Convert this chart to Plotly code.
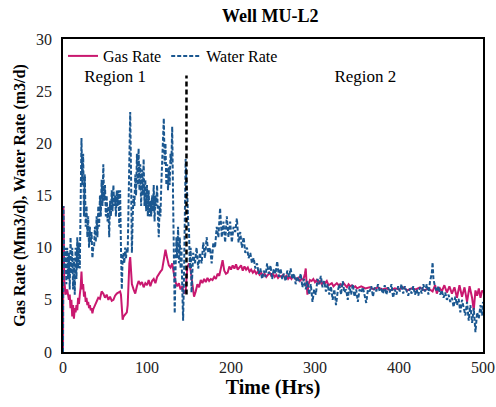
import plotly.graph_objects as go

# ---- data ----
water_t = [0, 0.5, 1.5, 3, 4, 5, 6, 7, 8, 9, 10, 11, 12, 13, 14, 15, 16, 17, 18, 19, 20,
           21, 22, 23, 24, 25, 26, 27, 28, 29, 30, 31, 32, 33, 34, 35, 36, 37, 38, 39, 40,
           41, 42, 43, 44, 45, 46, 47, 48, 49, 50, 51, 52, 53, 54, 55, 56, 57, 58, 59, 60,
           61, 62, 63, 64, 65, 66, 67, 68, 69, 70, 71, 72, 73, 74, 75, 76, 77, 78, 79, 80,
           81, 82, 83, 84, 85, 86, 87, 88, 89, 90, 91, 92, 93, 94, 95, 96, 97, 98, 99, 100,
           101, 102, 103, 104, 105, 106, 107, 108, 109, 110, 111, 112, 113, 114, 115, 116,
           117, 118, 119, 120, 121, 122, 123, 124, 125, 126, 127, 128, 129, 130, 131, 132,
           133, 134, 135, 136, 137, 138, 139, 140, 141, 142, 143, 144, 145, 146, 147, 148,
           149, 150, 151, 152, 153, 154, 155,
           157, 159, 161, 163, 165, 167, 169, 171, 173, 175, 177, 179, 181, 183, 185, 187,
           189, 191, 193, 195, 197, 199, 201, 203, 205, 207, 209, 211, 213, 215, 217, 219,
           221, 223, 225, 227, 229, 231, 233, 235, 237, 239, 241, 243, 245, 247, 249, 251,
           253, 255, 257, 259, 261, 263, 265, 267, 269, 271, 273, 275, 277, 279, 281, 283,
           285, 287, 289, 291, 293, 295, 297, 299, 301, 303, 305, 307, 309, 311, 313, 315,
           317, 319, 321, 323, 325, 327, 329, 331, 333, 335, 337, 339, 341, 343, 345, 347,
           349, 351, 353, 355, 357, 359, 361, 363, 365, 367, 369, 371, 373, 375, 377, 379,
           381, 383, 385, 387, 389, 391, 393, 395, 397, 399, 401, 403, 405, 407, 409, 411,
           413, 415, 417, 419, 421, 423, 425, 427, 429, 431, 433, 435, 437, 439, 440, 441,
           443, 445, 447, 449, 451, 453, 455, 457, 459, 461, 463, 465, 467, 469, 471, 473,
           475, 477, 479, 481, 483, 485, 487, 489, 491, 493, 495, 497, 499, 500]
water_rate = [0, 14, 8, 10, 6.5, 10, 7, 9.5, 6, 11, 7.5, 10, 6, 9, 5.5, 10, 7, 11, 8, 10.5, 8,
              15, 20.5, 16, 19, 13, 17, 12, 14, 11, 13, 10, 12, 10.5, 11.5, 9, 10, 10, 12, 10.5, 13,
              11, 14, 12, 15, 13, 16.5, 14, 18, 14.5, 16, 13, 15, 12.5, 14, 11, 14.5, 13, 15.5, 13.5, 16,
              14, 15, 13, 15.5, 14, 15.5, 12, 15.5, 10, 6, 9, 9.5, 8.5, 10, 9, 10, 9.5, 14, 19, 23,
              17, 9.5, 13, 15, 14, 17, 15, 19, 16, 19.5, 15.5, 18, 14, 17.5, 15, 18.5, 14, 16.5, 13.5, 16,
              13, 15.5, 13, 14.5, 13, 15, 13.5, 16, 12.5, 15, 14, 16, 13, 11, 14, 13,
              16, 19, 21, 22.4, 18, 20, 16, 18, 15.5, 17.7, 16, 19, 18, 21.6, 15, 9,
              3.7, 8, 11, 9, 12, 8.5, 11, 8, 10, 6, 3, 7, 14, 18.5, 16, 15,
              12.5, 11.7, 8, 10, 5.7, 8, 9.5,
              8.5, 10, 8, 9.5, 8.5, 10.5, 9, 11, 9.5, 10, 8.5, 10.5, 10, 12, 11, 13.8,
              11, 12.5, 10.5, 13, 11, 12.5, 10.5, 12, 11.5, 12.8, 10.5, 11.5, 10, 11, 9.5, 10,
              9, 9.5, 8.5, 9, 8, 8.5, 7.5, 8, 7, 7.8, 7.2, 8.5, 7.5, 8.3, 7, 8,
              7.5, 8.7, 7.2, 8, 7, 7.5, 6.8, 7.8, 7.2, 8, 7, 7.5, 6.5, 7.2, 6.8, 7.5,
              6.2, 7, 6, 6.8, 5.5, 6.5, 4.8, 6, 5.5, 7, 6.5, 7.3, 6.2, 6.8, 5.8, 6.5,
              5.5, 6.3, 5, 6, 4.5, 5.8, 6.5, 5.5, 6.8, 5.7, 6, 5, 6.3, 5.5, 6.5, 5.3,
              6, 4.8, 6, 5.7, 6.2, 5.5, 4.7, 6, 5.8, 6.3, 5.3, 6.2, 5.8, 6.5, 5.8, 6,
              5.6, 6.4, 5.5, 6.2, 5.7, 6.5, 5.2, 6, 5.5, 6.3, 5.8, 6.5, 5.6, 6.3, 5.8, 5.4,
              6.1, 5.6, 6.3, 5.5, 6, 5.4, 6.2, 5.6, 6.5, 5.8, 6.5, 5.5, 6.8, 7.5, 8.6, 7,
              6.2, 5.8, 6.3, 5.5, 5.9, 5.2, 5.7, 5, 5.5, 4.8, 5.2, 4.3, 5.3, 4.5, 5.1, 3.8,
              5, 4.3, 3.5, 4.8, 3, 4.5, 2.8, 4.2, 1.9, 3.8, 3.2, 4.5, 3.5, 4.8]

gas_t = [0, 0.5, 1.5, 3, 5, 7, 8, 9, 10, 11, 12, 13, 14, 15, 16, 17, 18, 19, 20, 21, 22, 23,
         24, 25, 26, 27, 28, 29, 30, 31, 32, 33, 34, 35, 36, 38, 40, 42, 44, 46, 48, 50, 52,
         54, 56, 58, 60, 62, 64, 66, 68, 69, 70, 71, 72, 74, 76, 77, 78, 79, 80, 81, 82, 84,
         86, 88, 90, 92, 94, 96, 98, 100, 102, 104, 106, 108, 110, 112, 114, 116, 118, 120,
         122, 124, 126, 128, 130, 132, 134, 136, 138, 140, 142, 144, 146, 148, 150, 152, 154,
         156, 158, 160, 162, 164, 166, 168, 170, 172, 174, 176, 178, 180, 182, 184, 186, 188,
         190, 192, 194, 196, 198, 200, 202, 204, 206, 208, 210, 212, 214, 216, 218, 220, 222,
         224, 226, 228, 230, 232, 234, 236, 238, 240, 242, 244, 246, 248, 250, 252, 254, 256,
         258, 260, 262, 264, 266, 268, 270, 272, 274, 276, 278, 280, 282, 284, 286, 288, 289,
         290, 291, 292, 294, 296, 298, 300, 302, 304, 306, 308, 310, 312, 314, 316, 318, 320,
         322, 324, 326, 328, 330, 332, 334, 336, 338, 340, 342, 344, 346, 348, 350, 355, 360,
         365, 370, 375, 380, 385, 390, 395, 400, 405, 410, 415, 420, 425, 430, 435, 440, 443,
         445, 448, 451, 454, 457, 460, 463, 466, 469, 472, 475, 478, 481, 484, 487, 489, 491,
         493, 495, 497, 499, 500]
gas_rate = [0, 14, 7, 5.5, 6, 5, 5.5, 4.2, 5, 3.4, 4.5, 3.2, 4.2, 3.8, 4.5, 4, 5.2, 4.6, 5.5, 6.2, 7.7, 6,
            6.5, 5.3, 5.8, 4.8, 5.2, 4.5, 4.8, 4.2, 4.5, 4, 4.2, 3.7, 4.1, 4.5, 4.8, 5.2, 5.1, 5.8, 5.6, 5.2, 5.5,
            5, 5.3, 4.9, 5, 5.4, 5.6, 5.7, 5.8, 5.5, 4, 3.1, 3.4, 3.6, 3.8, 4.5, 7, 8.5, 9.1, 7.5, 6.5, 6,
            5.6, 6.3, 6.8, 6.5, 6.7, 6.2, 6.6, 6.4, 6.9, 6.3, 6.8, 7, 6.6, 7.2, 7.5, 7.7, 7.9, 8.8,
            9.8, 9, 8.3, 8.1, 8.5, 7.5, 6.7, 6.3, 6.6, 6, 6.3, 5.6, 5.8, 8.1, 8.5, 7.8, 6.5,
            5.3, 5.8, 6.5, 6.2, 6.9, 6.6, 7, 6.7, 7.1, 6.8, 7, 6.9, 7.2, 7, 7.5, 7.3, 8.2,
            8.8, 7.8, 7.5, 7.6, 8.2, 7.9, 8.3, 8, 8.4, 7.9, 8.1, 8.3, 7.8, 8.2, 7.9, 8.1, 7.7,
            7.9, 7.6, 7.8, 7.5, 7.7, 7.4, 7.6, 7.3, 7.5, 7.2, 7.4, 7.6, 7.3, 7.5, 7.2, 7.4, 7.1,
            7.3, 7.2, 7.4, 7.1, 7.3, 7.0, 7.2, 7, 7.3, 7.1, 6.9, 7.1, 6.8, 7, 6.9, 7.5, 8,
            6.5, 5.5, 6.4, 6.9, 6.8, 7, 6.7, 6.9, 6.6, 6.8, 6.5, 6.7, 6.6, 6.8, 6.4, 6.5, 6.6,
            6.3, 6.5, 6.6, 6.4, 6.5, 6.3, 6.6, 6.4, 6.2, 6.5, 6.3, 6.4, 6.2, 6.3, 6.1, 6.3, 6.1,
            6.2, 6.0, 6.2, 6.0, 6.1, 5.9, 6.1, 6.0, 6.2, 5.9, 6.1, 6.0, 6.2, 5.9, 6.1, 5.8, 6.4,
            5.6, 6.2, 5.8, 6.4, 5.7, 6.3, 5.6, 6.2, 5.2, 6.4, 5.3, 6.2, 4.8, 6.3, 5.2, 4, 5.9,
            5.4, 6.1, 5.2, 5.9, 5.7]

divider_t = [147, 147]
divider_rate = [5.5, 26.5]

region_labels = ["Region 1", "Region 2"]
region_t = [62, 360]
region_rate = [26.3, 26.3]

x_ticks = [0, 100, 200, 300, 400, 500]
y_ticks = [0, 5, 10, 15, 20, 25, 30]

GAS_COLOR = "#C9186F"
WATER_COLOR = "#1A5790"
FONT = "Liberation Serif"

fig = go.Figure()
fig.add_trace(go.Scatter(x=gas_t, y=gas_rate, mode="lines", name="Gas Rate",
                         line=dict(color=GAS_COLOR, width=2)))
fig.add_trace(go.Scatter(x=water_t, y=water_rate, mode="lines", name="Water Rate",
                         line=dict(color=WATER_COLOR, width=2, dash="4px,2px")))
fig.add_trace(go.Scatter(x=divider_t, y=divider_rate, mode="lines", showlegend=False,
                         line=dict(color="black", width=2.5, dash="5px,3px"), hoverinfo="skip"))
fig.add_trace(go.Scatter(x=region_t, y=region_rate, mode="text", text=region_labels,
                         showlegend=False, textfont=dict(family=FONT, size=17, color="black")))

fig.update_layout(
    width=496, height=407,
    margin=dict(l=63, r=13, t=39, b=55, autoexpand=False),
    paper_bgcolor="white", plot_bgcolor="white",
    font=dict(family=FONT, size=16, color="#222"),
    title=dict(text="<b>Well MU-L2</b>", x=0.545, xanchor="center", y=0.978, yanchor="top",
               font=dict(family=FONT, size=18, color="black")),
    showlegend=True,
    legend=dict(orientation="h", x=0.0, y=1.0, xanchor="left", yanchor="top",
                bgcolor="rgba(0,0,0,0)", font=dict(family=FONT, size=16, color="black"),
                itemwidth=30, tracegroupgap=0),
    xaxis=dict(range=[0, 500], tickvals=x_ticks, showgrid=False, zeroline=False,
               showline=True, linecolor="black", linewidth=1.5, mirror=True, ticks="",
               automargin=False, ticklabeloverflow="allow",
               tickfont=dict(family=FONT, size=16, color="#222"),
               title=dict(text="<b>Time (Hrs)</b>", standoff=0,
                          font=dict(family=FONT, size=20, color="black"))),
    yaxis=dict(range=[0, 30], tickvals=y_ticks, showgrid=False, zeroline=False,
               showline=True, linecolor="black", linewidth=1.5, mirror=True, ticks="",
               automargin=False, ticklabelstandoff=6,
               tickfont=dict(family=FONT, size=16, color="#222"),
               title=dict(text="<b>Gas Rate (Mm3/d), Water Rate (m3/d)</b>", standoff=6,
                          font=dict(family=FONT, size=16, color="black"))),
)

fig.write_html("out.html")
